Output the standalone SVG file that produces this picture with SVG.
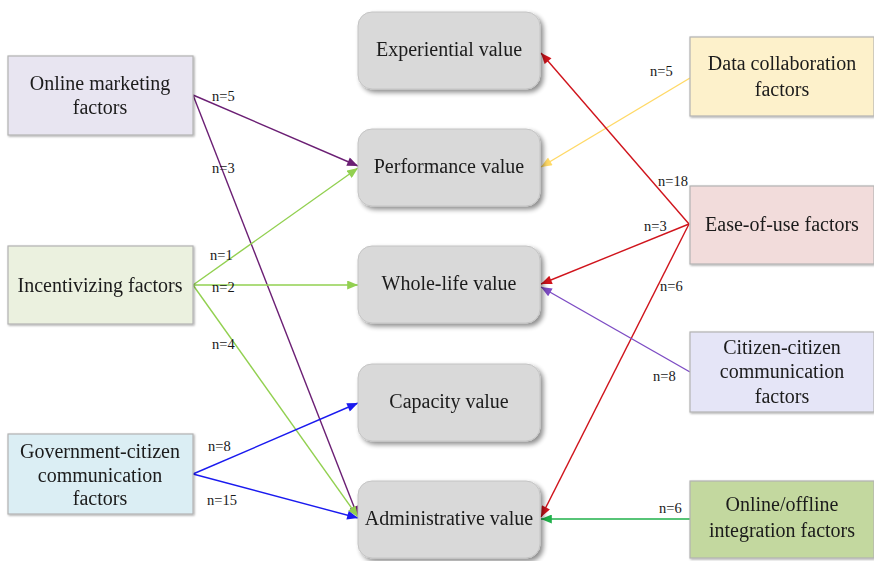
<svg xmlns="http://www.w3.org/2000/svg" width="874" height="561" viewBox="0 0 874 561">
  <defs>
    <filter id="shadow" x="-10%" y="-10%" width="130%" height="130%">
      <feGaussianBlur in="SourceAlpha" stdDeviation="2.5"/>
      <feOffset dx="3" dy="3" result="b"/>
      <feComponentTransfer><feFuncA type="linear" slope="0.45"/></feComponentTransfer>
      <feMerge><feMergeNode/><feMergeNode in="SourceGraphic"/></feMerge>
    </filter>
    <filter id="soft" x="-5%" y="-5%" width="115%" height="120%">
      <feGaussianBlur in="SourceAlpha" stdDeviation="1"/>
      <feOffset dx="1" dy="1"/>
      <feComponentTransfer><feFuncA type="linear" slope="0.35"/></feComponentTransfer>
      <feMerge><feMergeNode/><feMergeNode in="SourceGraphic"/></feMerge>
    </filter>
    <marker id="a-purple" viewBox="0 0 12 10" refX="12" refY="5" markerWidth="12" markerHeight="9" markerUnits="userSpaceOnUse" orient="auto"><path d="M0,0 L12,5 L0,10 z" fill="#6b1f74"/></marker>
    <marker id="a-lime" viewBox="0 0 12 10" refX="12" refY="5" markerWidth="12" markerHeight="9" markerUnits="userSpaceOnUse" orient="auto"><path d="M0,0 L12,5 L0,10 z" fill="#92d050"/></marker>
    <marker id="a-blue" viewBox="0 0 12 10" refX="12" refY="5" markerWidth="12" markerHeight="9" markerUnits="userSpaceOnUse" orient="auto"><path d="M0,0 L12,5 L0,10 z" fill="#1a1aef"/></marker>
    <marker id="a-yellow" viewBox="0 0 12 10" refX="12" refY="5" markerWidth="12" markerHeight="9" markerUnits="userSpaceOnUse" orient="auto"><path d="M0,0 L12,5 L0,10 z" fill="#ffd966"/></marker>
    <marker id="a-red" viewBox="0 0 12 10" refX="12" refY="5" markerWidth="12" markerHeight="9" markerUnits="userSpaceOnUse" orient="auto"><path d="M0,0 L12,5 L0,10 z" fill="#d0141c"/></marker>
    <marker id="a-violet" viewBox="0 0 12 10" refX="12" refY="5" markerWidth="12" markerHeight="9" markerUnits="userSpaceOnUse" orient="auto"><path d="M0,0 L12,5 L0,10 z" fill="#7d4cc4"/></marker>
    <marker id="a-green" viewBox="0 0 12 10" refX="12" refY="5" markerWidth="12" markerHeight="9" markerUnits="userSpaceOnUse" orient="auto"><path d="M0,0 L12,5 L0,10 z" fill="#1fb04a"/></marker>
  </defs>
  <style>
    text { font-family: "Liberation Serif", "Times New Roman", serif; fill: #1a1a1a; }
    .t { font-size: 20px; text-anchor: middle; }
    .n { font-size: 14.5px; }
    .factor { stroke: #b3b3b3; stroke-width: 1.2; }
    .value { fill: #d9d9d9; stroke: #c4c4c4; stroke-width: 1; }
    .edge { fill: none; stroke-width: 1.4; }
  </style>
  <rect width="874" height="561" fill="#ffffff"/>

  <!-- connectors -->
  <g id="connectors">
    <line class="edge" x1="193" y1="95" x2="358" y2="166" stroke="#6b1f74" marker-end="url(#a-purple)"/>
    <line class="edge" x1="193" y1="95" x2="358" y2="517" stroke="#6b1f74" marker-end="url(#a-purple)"/>
    <line class="edge" x1="193" y1="285" x2="358" y2="168" stroke="#92d050" marker-end="url(#a-lime)"/>
    <line class="edge" x1="193" y1="285" x2="358" y2="285" stroke="#92d050" marker-end="url(#a-lime)"/>
    <line class="edge" x1="193" y1="285" x2="358" y2="517" stroke="#92d050" marker-end="url(#a-lime)"/>
    <line class="edge" x1="193" y1="474" x2="358" y2="403" stroke="#1a1aef" marker-end="url(#a-blue)"/>
    <line class="edge" x1="193" y1="474" x2="358" y2="518" stroke="#1a1aef" marker-end="url(#a-blue)"/>
    <line class="edge" x1="690" y1="78" x2="541" y2="167" stroke="#ffd966" marker-end="url(#a-yellow)"/>
    <line class="edge" x1="689" y1="224" x2="541" y2="53" stroke="#d0141c" marker-end="url(#a-red)"/>
    <line class="edge" x1="689" y1="224" x2="541" y2="284" stroke="#d0141c" marker-end="url(#a-red)"/>
    <line class="edge" x1="689" y1="224" x2="541" y2="517" stroke="#d0141c" marker-end="url(#a-red)"/>
    <line class="edge" x1="690" y1="372" x2="541" y2="287" stroke="#7d4cc4" marker-end="url(#a-violet)"/>
    <line class="edge" x1="690" y1="519" x2="541" y2="519" stroke="#1fb04a" marker-end="url(#a-green)"/>

    <text class="n" x="212" y="101">n=5</text>
    <text class="n" x="212" y="173">n=3</text>
    <text class="n" x="210" y="260">n=1</text>
    <text class="n" x="212" y="292">n=2</text>
    <text class="n" x="212" y="349">n=4</text>
    <text class="n" x="208" y="451">n=8</text>
    <text class="n" x="207" y="505">n=15</text>
    <text class="n" x="650" y="76">n=5</text>
    <text class="n" x="658" y="186">n=18</text>
    <text class="n" x="644" y="231">n=3</text>
    <text class="n" x="660" y="291">n=6</text>
    <text class="n" x="653" y="381">n=8</text>
    <text class="n" x="659" y="513">n=6</text>
  </g>

  <!-- factor nodes (left) -->
  <g id="online-marketing" filter="url(#soft)">
    <rect class="factor" x="8" y="56" width="185" height="79" fill="#e8e5f1"/>
    <text class="t" x="100" y="90">Online marketing</text>
    <text class="t" x="100" y="114">factors</text>
  </g>
  <g id="incentivizing" filter="url(#soft)">
    <rect class="factor" x="8" y="246" width="185" height="78" fill="#ebf1df"/>
    <text class="t" x="100" y="292">Incentivizing factors</text>
  </g>
  <g id="gov-citizen" filter="url(#soft)">
    <rect class="factor" x="8" y="434" width="185" height="80" fill="#dbeef4"/>
    <text class="t" x="100" y="458">Government-citizen</text>
    <text class="t" x="100" y="482">communication</text>
    <text class="t" x="100" y="505">factors</text>
  </g>

  <!-- value nodes (centre) -->
  <g id="experiential" filter="url(#shadow)">
    <rect class="value" x="358" y="12" width="182" height="77" rx="14"/>
    <text class="t" x="449" y="56">Experiential value</text>
  </g>
  <g id="performance" filter="url(#shadow)">
    <rect class="value" x="358" y="129" width="182" height="77" rx="14"/>
    <text class="t" x="449" y="173">Performance value</text>
  </g>
  <g id="whole-life" filter="url(#shadow)">
    <rect class="value" x="358" y="246" width="182" height="77" rx="14"/>
    <text class="t" x="449" y="290">Whole-life value</text>
  </g>
  <g id="capacity" filter="url(#shadow)">
    <rect class="value" x="358" y="364" width="182" height="77" rx="14"/>
    <text class="t" x="449" y="408">Capacity value</text>
  </g>
  <g id="administrative" filter="url(#shadow)">
    <rect class="value" x="358" y="481" width="182" height="77" rx="14"/>
    <text class="t" x="449" y="525">Administrative value</text>
  </g>

  <!-- factor nodes (right) -->
  <g id="data-collaboration" filter="url(#soft)">
    <rect class="factor" x="690" y="37" width="184" height="79" fill="#fdf1cb"/>
    <text class="t" x="782" y="70">Data collaboration</text>
    <text class="t" x="782" y="96">factors</text>
  </g>
  <g id="ease-of-use" filter="url(#soft)">
    <rect class="factor" x="690" y="186" width="184" height="78" fill="#f2dcdb"/>
    <text class="t" x="782" y="231">Ease-of-use factors</text>
  </g>
  <g id="citizen-citizen" filter="url(#soft)">
    <rect class="factor" x="690" y="332" width="184" height="80" fill="#e5e5f7"/>
    <text class="t" x="782" y="354">Citizen-citizen</text>
    <text class="t" x="782" y="378">communication</text>
    <text class="t" x="782" y="403">factors</text>
  </g>
  <g id="online-offline" filter="url(#soft)">
    <rect class="factor" x="690" y="481" width="184" height="77" fill="#c3d89f"/>
    <text class="t" x="782" y="511">Online/offline</text>
    <text class="t" x="782" y="537">integration factors</text>
  </g>
</svg>
